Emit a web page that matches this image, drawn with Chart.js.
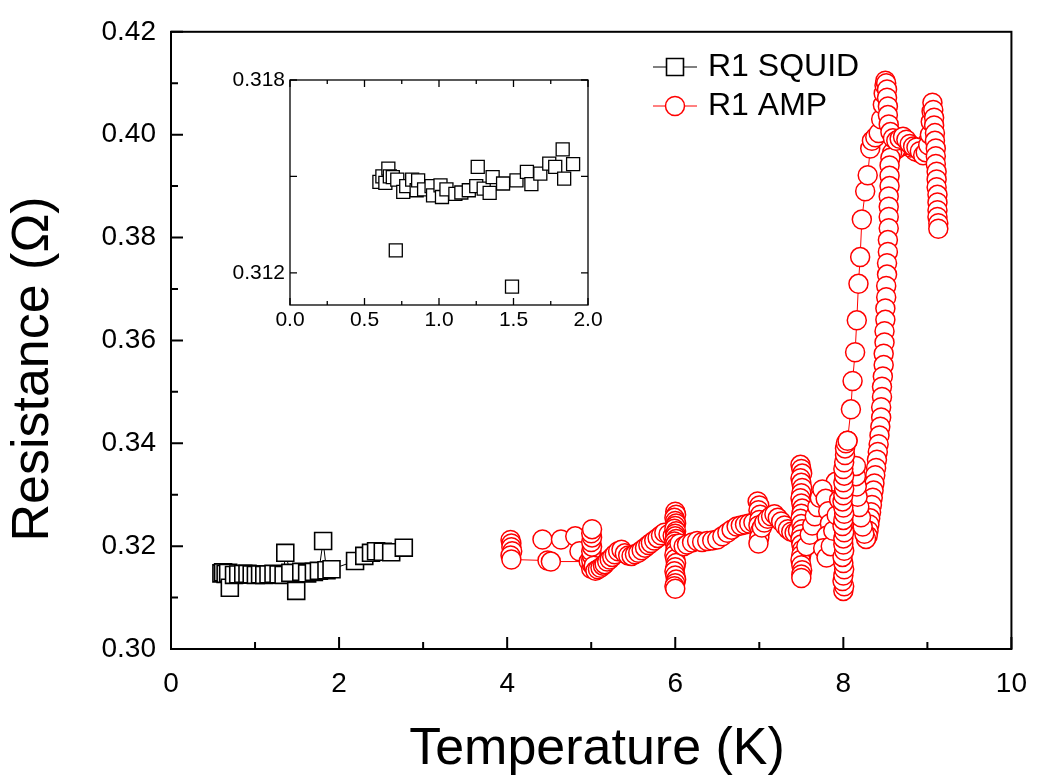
<!DOCTYPE html>
<html>
<head>
<meta charset="utf-8">
<title>Resistance vs Temperature</title>
<script src="https://cdn.jsdelivr.net/npm/chart.js@4.4.1/dist/chart.umd.min.js"></script>
<style>
    body { margin: 0; background: #fff; }
    #wrap { position: relative; width: 1045px; height: 778px; }
    #mainChart { position: absolute; left: 0; top: 0; }
    #insetChart { position: absolute; left: 190px; top: 50px; }
</style>
</head>
<body>
<div id="wrap">
    <canvas id="mainChart" width="1045" height="778"></canvas>
    <canvas id="insetChart" width="420" height="300"></canvas>
</div>
<script>
// ---- data (Temperature in K, Resistance in Ohm) ----

// R1 SQUID, main panel
const squidT = [0.60, 0.62, 0.65, 0.68, 0.70, 0.75, 0.80, 0.86, 0.91, 0.96,
                1.01, 1.06, 1.11, 1.16, 1.22, 1.28, 1.34, 1.36, 1.42, 1.49,
                1.55, 1.62, 1.70, 1.76, 1.81, 1.85, 1.91, 2.19, 2.30, 2.38,
                2.44, 2.52, 2.62, 2.77];
const squidR = [0.3147, 0.3149, 0.3146, 0.3148, 0.3119, 0.3144, 0.3145, 0.3146, 0.3146, 0.3145,
                0.3144, 0.3145, 0.3144, 0.3145, 0.3146, 0.3145, 0.3144, 0.3187, 0.3148, 0.3113,
                0.3150, 0.3147, 0.3150, 0.3152, 0.3210, 0.3153, 0.3155, 0.3171, 0.3181, 0.3187,
                0.3190, 0.3189, 0.3188, 0.3197];

// R1 SQUID, inset
const insetT = [0.60, 0.62, 0.64, 0.66, 0.67, 0.69, 0.71, 0.72, 0.76, 0.78,
                0.82, 0.85, 0.86, 0.90, 0.95, 0.96, 1.01, 1.02, 1.05, 1.11,
                1.15, 1.20, 1.25, 1.26, 1.30, 1.34, 1.36, 1.43, 1.49, 1.52,
                1.59, 1.62, 1.68, 1.74, 1.78, 1.83, 1.84, 1.90];
const insetR = [0.31483, 0.31500, 0.31480, 0.31524, 0.31500, 0.31498, 0.31270, 0.31490, 0.31452, 0.31470,
                0.31490, 0.31457, 0.31488, 0.31460, 0.31470, 0.31441, 0.31472, 0.31436, 0.31460, 0.31446,
                0.31450, 0.31457, 0.31470, 0.31530, 0.31462, 0.31449, 0.31498, 0.31478, 0.31157, 0.31488,
                0.31514, 0.31476, 0.31509, 0.31540, 0.31530, 0.31584, 0.31493, 0.31538];

// R1 AMP, warming sweep
const ampWarmT = [4.04, 4.05, 4.05, 4.06, 4.04, 4.05, 4.48, 4.52, 4.97, 5.00,
                  5.01, 5.00, 5.01, 5.00, 5.01, 5.00, 5.01, 5.00, 5.01, 5.03,
                  5.05, 5.08, 5.11, 5.14, 5.16, 5.19, 5.22, 5.25, 5.28, 5.32,
                  5.36, 5.40, 5.44, 5.48, 5.52, 5.56, 5.60, 5.64, 5.68, 5.71,
                  5.75, 5.79, 5.83, 5.87, 5.92, 5.97, 6.00, 6.01, 5.99, 6.00,
                  6.01, 6.00, 5.99, 6.01, 6.00, 6.00, 6.01, 5.99, 6.00, 6.01,
                  6.00, 5.99, 6.00, 6.01, 6.00, 5.99, 6.00, 6.01, 6.00, 5.99,
                  6.00, 6.05, 6.10, 6.14, 6.20, 6.26, 6.32, 6.38, 6.44, 6.50,
                  6.56, 6.62, 6.67, 6.73, 6.78, 6.83, 6.88, 6.93, 6.98, 7.00,
                  6.99, 7.01, 7.00, 6.99, 7.01, 7.00, 6.99, 7.03, 7.06, 7.10,
                  7.14, 7.18, 7.22, 7.26, 7.30, 7.34, 7.38, 7.42, 7.46, 7.49,
                  7.50, 7.51, 7.49, 7.50, 7.51, 7.50, 7.49, 7.50, 7.51, 7.50,
                  7.49, 7.50, 7.51, 7.50, 7.49, 7.50, 7.51, 7.50, 7.49, 7.50,
                  7.51, 7.50, 7.50, 7.56, 7.60, 7.63, 7.66, 7.69, 7.72, 7.75,
                  7.79, 7.82, 7.84, 7.80, 7.76, 7.80, 7.85, 7.88, 7.92, 7.95,
                  8.00, 8.01, 7.99, 8.00, 8.01, 8.00, 7.99, 8.01, 8.00, 8.00,
                  8.01, 7.99, 8.00, 8.01, 8.00, 7.99, 8.00, 8.01, 8.00, 8.01,
                  8.00, 8.01, 8.02, 8.02, 8.03, 8.05, 8.09, 8.11, 8.14, 8.16,
                  8.18, 8.20, 8.22, 8.26, 8.29, 8.32, 8.34, 8.38, 8.42, 8.45,
                  8.47, 8.48, 8.49, 8.50, 8.51, 8.52, 8.52, 8.53, 8.53, 8.54,
                  8.56, 8.59, 8.63, 8.67, 8.71, 8.75, 8.79, 8.83, 8.87, 8.91,
                  8.95, 8.98, 9.01, 9.03, 9.04, 9.05, 9.06, 9.07, 9.08, 9.08,
                  9.09, 9.09, 9.10, 9.10, 9.10, 9.11, 9.11, 9.11, 9.12, 9.12,
                  9.12, 9.12, 9.13, 9.13];
const ampWarmR = [0.3212, 0.3205, 0.3198, 0.3190, 0.3182, 0.3174, 0.3172, 0.3170, 0.3170, 0.3156,
                  0.3164, 0.3172, 0.3181, 0.3190, 0.3199, 0.3208, 0.3217, 0.3225, 0.3233, 0.3162,
                  0.3152, 0.3155, 0.3158, 0.3162, 0.3165, 0.3170, 0.3174, 0.3179, 0.3184, 0.3190,
                  0.3193, 0.3186, 0.3182, 0.3181, 0.3184, 0.3187, 0.3192, 0.3197, 0.3202, 0.3206,
                  0.3211, 0.3216, 0.3221, 0.3226, 0.3223, 0.3220, 0.3267, 0.3261, 0.3255, 0.3249,
                  0.3244, 0.3239, 0.3234, 0.3229, 0.3224, 0.3219, 0.3214, 0.3209, 0.3204, 0.3198,
                  0.3191, 0.3183, 0.3175, 0.3167, 0.3159, 0.3151, 0.3143, 0.3135, 0.3128, 0.3122,
                  0.3117, 0.3205, 0.3200, 0.3203, 0.3207, 0.3210, 0.3208, 0.3210, 0.3211, 0.3213,
                  0.3219, 0.3226, 0.3232, 0.3238, 0.3240, 0.3242, 0.3244, 0.3246, 0.3287, 0.3279,
                  0.3270, 0.3261, 0.3251, 0.3240, 0.3229, 0.3217, 0.3205, 0.3236, 0.3246, 0.3253,
                  0.3258, 0.3262, 0.3255, 0.3248, 0.3240, 0.3233, 0.3228, 0.3226, 0.3230, 0.3358,
                  0.3350, 0.3341, 0.3332, 0.3323, 0.3313, 0.3303, 0.3293, 0.3283, 0.3273, 0.3263,
                  0.3253, 0.3243, 0.3233, 0.3223, 0.3213, 0.3203, 0.3193, 0.3183, 0.3173, 0.3163,
                  0.3153, 0.3145, 0.3138, 0.3200, 0.3222, 0.3240, 0.3258, 0.3276, 0.3294, 0.3310,
                  0.3292, 0.3268, 0.3244, 0.3220, 0.3196, 0.3178, 0.3200, 0.3230, 0.3260, 0.3290,
                  0.3113, 0.3122, 0.3132, 0.3143, 0.3155, 0.3167, 0.3179, 0.3191, 0.3203, 0.3215,
                  0.3227, 0.3239, 0.3251, 0.3263, 0.3275, 0.3287, 0.3299, 0.3311, 0.3324, 0.3337,
                  0.3350, 0.3363, 0.3377, 0.3390, 0.3400, 0.3405, 0.3466, 0.3521, 0.3577, 0.3639,
                  0.3710, 0.3762, 0.3835, 0.3890, 0.3921, 0.3973, 0.3988, 0.3995, 0.4003, 0.4030,
                  0.4058, 0.4080, 0.4096, 0.4105, 0.4100, 0.4088, 0.4072, 0.4055, 0.4038, 0.4020,
                  0.4005, 0.3993, 0.3988, 0.3992, 0.3996, 0.3990, 0.3982, 0.3977, 0.3975, 0.3968,
                  0.3960, 0.3966, 0.3980, 0.4000, 0.4025, 0.4045, 0.4062, 0.4048, 0.4033, 0.4018,
                  0.4003, 0.3988, 0.3973, 0.3958, 0.3943, 0.3928, 0.3913, 0.3898, 0.3883, 0.3868,
                  0.3853, 0.3840, 0.3828, 0.3817];

// R1 AMP, short second sweep near 4.5 K
const ampUpperT = [4.42, 4.64, 4.81, 4.86];
const ampUpperR = [0.3213, 0.3213, 0.3219, 0.3190];

// R1 AMP, cooling sweep
const ampCoolT = [9.05, 9.00, 8.95, 8.90, 8.85, 8.80, 8.75, 8.70, 8.66, 8.62,
                  8.58, 8.56, 8.55, 8.55, 8.55, 8.54, 8.54, 8.54, 8.54, 8.53,
                  8.53, 8.52, 8.52, 8.51, 8.51, 8.50, 8.50, 8.49, 8.49, 8.48,
                  8.48, 8.47, 8.46, 8.46, 8.45, 8.45, 8.44, 8.43, 8.42, 8.41,
                  8.40, 8.39, 8.38, 8.37, 8.36, 8.35, 8.34, 8.33, 8.32, 8.31,
                  8.30, 8.29, 8.27, 8.25, 8.23, 8.21, 8.19, 8.17, 8.16, 8.15,
                  8.15, 8.05, 7.91];
const ampCoolR = [0.3990, 0.3985, 0.3975, 0.3965, 0.3968, 0.3975, 0.3980, 0.3978, 0.3975, 0.3970,
                  0.3965, 0.3955, 0.3940, 0.3920, 0.3900, 0.3880, 0.3860, 0.3840, 0.3818, 0.3795,
                  0.3772, 0.3750, 0.3728, 0.3706, 0.3684, 0.3662, 0.3640, 0.3618, 0.3596, 0.3574,
                  0.3552, 0.3530, 0.3510, 0.3490, 0.3470, 0.3450, 0.3432, 0.3415, 0.3398, 0.3383,
                  0.3368, 0.3352, 0.3338, 0.3322, 0.3308, 0.3294, 0.3280, 0.3266, 0.3254, 0.3242,
                  0.3230, 0.3220, 0.3214, 0.3224, 0.3238, 0.3256, 0.3276, 0.3296, 0.3316, 0.3336,
                  0.3356, 0.3405, 0.3325];

// axis ticks
const xTicks = [0, 2, 4, 6, 8, 10];
const xMinor = [1, 3, 5, 7, 9];
const yTicks = [0.30, 0.32, 0.34, 0.36, 0.38, 0.40, 0.42];
const yMinor = [0.31, 0.33, 0.35, 0.37, 0.39, 0.41];
const insetXTicks = [0, 0.5, 1.0, 1.5, 2.0];
const insetXMinor = [0.25, 0.75, 1.25, 1.75];
const insetYTicks = [0.312, 0.318];
const insetYMinor = [0.315];

const FONT = "'Liberation Sans', Arial, Helvetica, sans-serif";

// pair two arrays into {x, y} points
function toPoints(xs, ys) {
    return xs.map((x, i) => ({ x: x, y: ys[i] }));
}

// frame box and inward ticks
const frameTicks = {
    id: 'frameTicks',
    afterDraw(chart, args, o) {
        const ctx = chart.ctx;
        const a = chart.chartArea;
        const sx = chart.scales.x;
        const sy = chart.scales.y;
        ctx.save();
        ctx.strokeStyle = '#000';
        ctx.lineWidth = o.lineWidth;
        ctx.beginPath();
        const xt = (vals, len) => vals.forEach(v => {
            const px = sx.getPixelForValue(v);
            ctx.moveTo(px, a.bottom);
            ctx.lineTo(px, a.bottom - len);
            if (o.mirror) { ctx.moveTo(px, a.top); ctx.lineTo(px, a.top + len); }
        });
        const yt = (vals, len) => vals.forEach(v => {
            const py = sy.getPixelForValue(v);
            ctx.moveTo(a.left, py);
            ctx.lineTo(a.left + len, py);
            if (o.mirror) { ctx.moveTo(a.right, py); ctx.lineTo(a.right - len, py); }
        });
        xt(o.xMajor, o.major);
        xt(o.xMinor, o.minor);
        yt(o.yMajor, o.major);
        yt(o.yMinor, o.minor);
        ctx.stroke();
        ctx.strokeRect(a.left, a.top, a.right - a.left, a.bottom - a.top);
        ctx.restore();
    }
};

// axis titles
const axisTitles = {
    id: 'axisTitles',
    afterDraw(chart, args, o) {
        const ctx = chart.ctx;
        ctx.save();
        ctx.fillStyle = '#000';
        ctx.font = o.size + 'px ' + FONT;
        ctx.textAlign = 'center';
        ctx.textBaseline = 'alphabetic';
        ctx.fillText(o.xText, o.xPos[0], o.xPos[1]);
        ctx.translate(o.yPos[0], o.yPos[1]);
        ctx.rotate(-Math.PI / 2);
        ctx.textBaseline = 'middle';
        ctx.fillText(o.yText, 0, 0);
        ctx.restore();
    }
};

// legend in the upper right of the plot
const legendBox = {
    id: 'legendBox',
    afterDraw(chart, args, o) {
        const ctx = chart.ctx;
        ctx.save();
        o.items.forEach(it => {
            const ds = chart.data.datasets[it.index];
            ctx.strokeStyle = ds.borderColor;
            ctx.lineWidth = 1;
            ctx.beginPath();
            ctx.moveTo(o.x - o.half, it.y);
            ctx.lineTo(o.x + o.half, it.y);
            ctx.stroke();
            ctx.fillStyle = '#fff';
            ctx.lineWidth = ds.pointBorderWidth;
            ctx.beginPath();
            if (ds.pointStyle === 'rect') {
                const s = ds.pointRadius * Math.SQRT1_2;
                ctx.rect(o.x - s, it.y - s, 2 * s, 2 * s);
            } else {
                ctx.arc(o.x, it.y, ds.pointRadius, 0, Math.PI * 2);
            }
            ctx.fill();
            ctx.stroke();
            ctx.fillStyle = '#000';
            ctx.font = o.size + 'px ' + FONT;
            ctx.textAlign = 'left';
            ctx.textBaseline = 'middle';
            ctx.fillText(ds.label, o.textX, it.y);
        });
        ctx.restore();
    }
};

function squidStyle(label, data, radius) {
    return {
        label: label, data: data, showLine: true,
        borderColor: '#000', borderWidth: 1,
        pointStyle: 'rect', pointRadius: radius, pointHoverRadius: radius,
        pointBorderWidth: 1.6, pointBorderColor: '#000', pointBackgroundColor: '#fff'
    };
}

function ampStyle(label, data) {
    return {
        label: label, data: data, showLine: true,
        borderColor: '#ff0000', borderWidth: 1,
        pointStyle: 'circle', pointRadius: 9.5, pointHoverRadius: 9.5,
        pointBorderWidth: 1.5, pointBorderColor: '#ff0000', pointBackgroundColor: '#fff'
    };
}

function tickFont(size) {
    return { family: FONT, size: size };
}

// main panel
function drawMainChart() {
    new Chart(document.getElementById('mainChart'), {
        type: 'scatter',
        data: {
            datasets: [
                squidStyle('R1 SQUID', toPoints(squidT, squidR), 12),
                ampStyle('R1 AMP', toPoints(ampWarmT, ampWarmR)),
                ampStyle('R1 AMP (b)', toPoints(ampUpperT, ampUpperR)),
                ampStyle('R1 AMP (c)', toPoints(ampCoolT, ampCoolR))
            ]
        },
        options: {
            responsive: false,
            animation: false,
            devicePixelRatio: 1,
            events: [],
            layout: { padding: { left: 0, top: 25, right: 24, bottom: 0 } },
            plugins: {
                legend: { display: false },
                tooltip: { enabled: false },
                frameTicks: { lineWidth: 2, major: 12, minor: 7, mirror: false,
                              xMajor: xTicks, xMinor: xMinor, yMajor: yTicks, yMinor: yMinor },
                axisTitles: { size: 52, xText: 'Temperature (K)', xPos: [597, 764],
                              yText: 'Resistance (\u03A9)', yPos: [34, 369] },
                legendBox: { x: 675, half: 22, textX: 708, size: 32,
                             items: [{ index: 0, y: 67 }, { index: 1, y: 106 }] }
            },
            scales: {
                x: {
                    type: 'linear', min: 0, max: 10,
                    afterBuildTicks: s => { s.ticks = xTicks.map(v => ({ value: v })); },
                    afterFit: s => { s.height = 778 - 649; },
                    grid: { display: false, drawTicks: false, tickLength: 0 },
                    border: { display: false },
                    ticks: { font: tickFont(28), color: '#000', padding: 18,
                             maxRotation: 0, autoSkip: false, callback: v => String(v) }
                },
                y: {
                    type: 'linear', min: 0.30, max: 0.42,
                    afterBuildTicks: s => { s.ticks = yTicks.map(v => ({ value: v })); },
                    afterFit: s => { s.width = 171; },
                    grid: { display: false, drawTicks: false, tickLength: 0 },
                    border: { display: false },
                    ticks: { font: tickFont(28), color: '#000', padding: 15,
                             autoSkip: false, callback: v => v.toFixed(2) }
                }
            }
        },
        plugins: [frameTicks, axisTitles, legendBox]
    });
}

// inset panel
function drawInsetChart() {
    new Chart(document.getElementById('insetChart'), {
        type: 'scatter',
        data: {
            datasets: [
                Object.assign(squidStyle('R1 SQUID', toPoints(insetT, insetR), 9.2), { showLine: false, pointBorderWidth: 1.3 })
            ]
        },
        options: {
            responsive: false,
            animation: false,
            devicePixelRatio: 1,
            events: [],
            layout: { padding: { left: 0, top: 30, right: 22, bottom: 0 } },
            plugins: {
                legend: { display: false },
                tooltip: { enabled: false },
                frameTicks: { lineWidth: 1.3, major: 7, minor: 4, mirror: true,
                              xMajor: insetXTicks, xMinor: insetXMinor,
                              yMajor: insetYTicks.concat(insetYMinor), yMinor: [] }
            },
            scales: {
                x: {
                    type: 'linear', min: 0, max: 2,
                    afterBuildTicks: s => { s.ticks = insetXTicks.map(v => ({ value: v })); },
                    afterFit: s => { s.height = 45; },
                    grid: { display: false, drawTicks: false, tickLength: 0 },
                    border: { display: false },
                    ticks: { font: tickFont(21), color: '#000', padding: 3,
                             maxRotation: 0, autoSkip: false, callback: v => v.toFixed(1) }
                },
                y: {
                    type: 'linear', min: 0.311, max: 0.318,
                    afterBuildTicks: s => { s.ticks = insetYTicks.map(v => ({ value: v })); },
                    afterFit: s => { s.width = 100; },
                    grid: { display: false, drawTicks: false, tickLength: 0 },
                    border: { display: false },
                    ticks: { font: tickFont(21), color: '#000', padding: 5,
                             autoSkip: false, callback: v => v.toFixed(3) }
                }
            }
        },
        plugins: [frameTicks]
    });
}

document.addEventListener('DOMContentLoaded', function() {
    drawMainChart();
    drawInsetChart();
});
</script>
</body>
</html>
